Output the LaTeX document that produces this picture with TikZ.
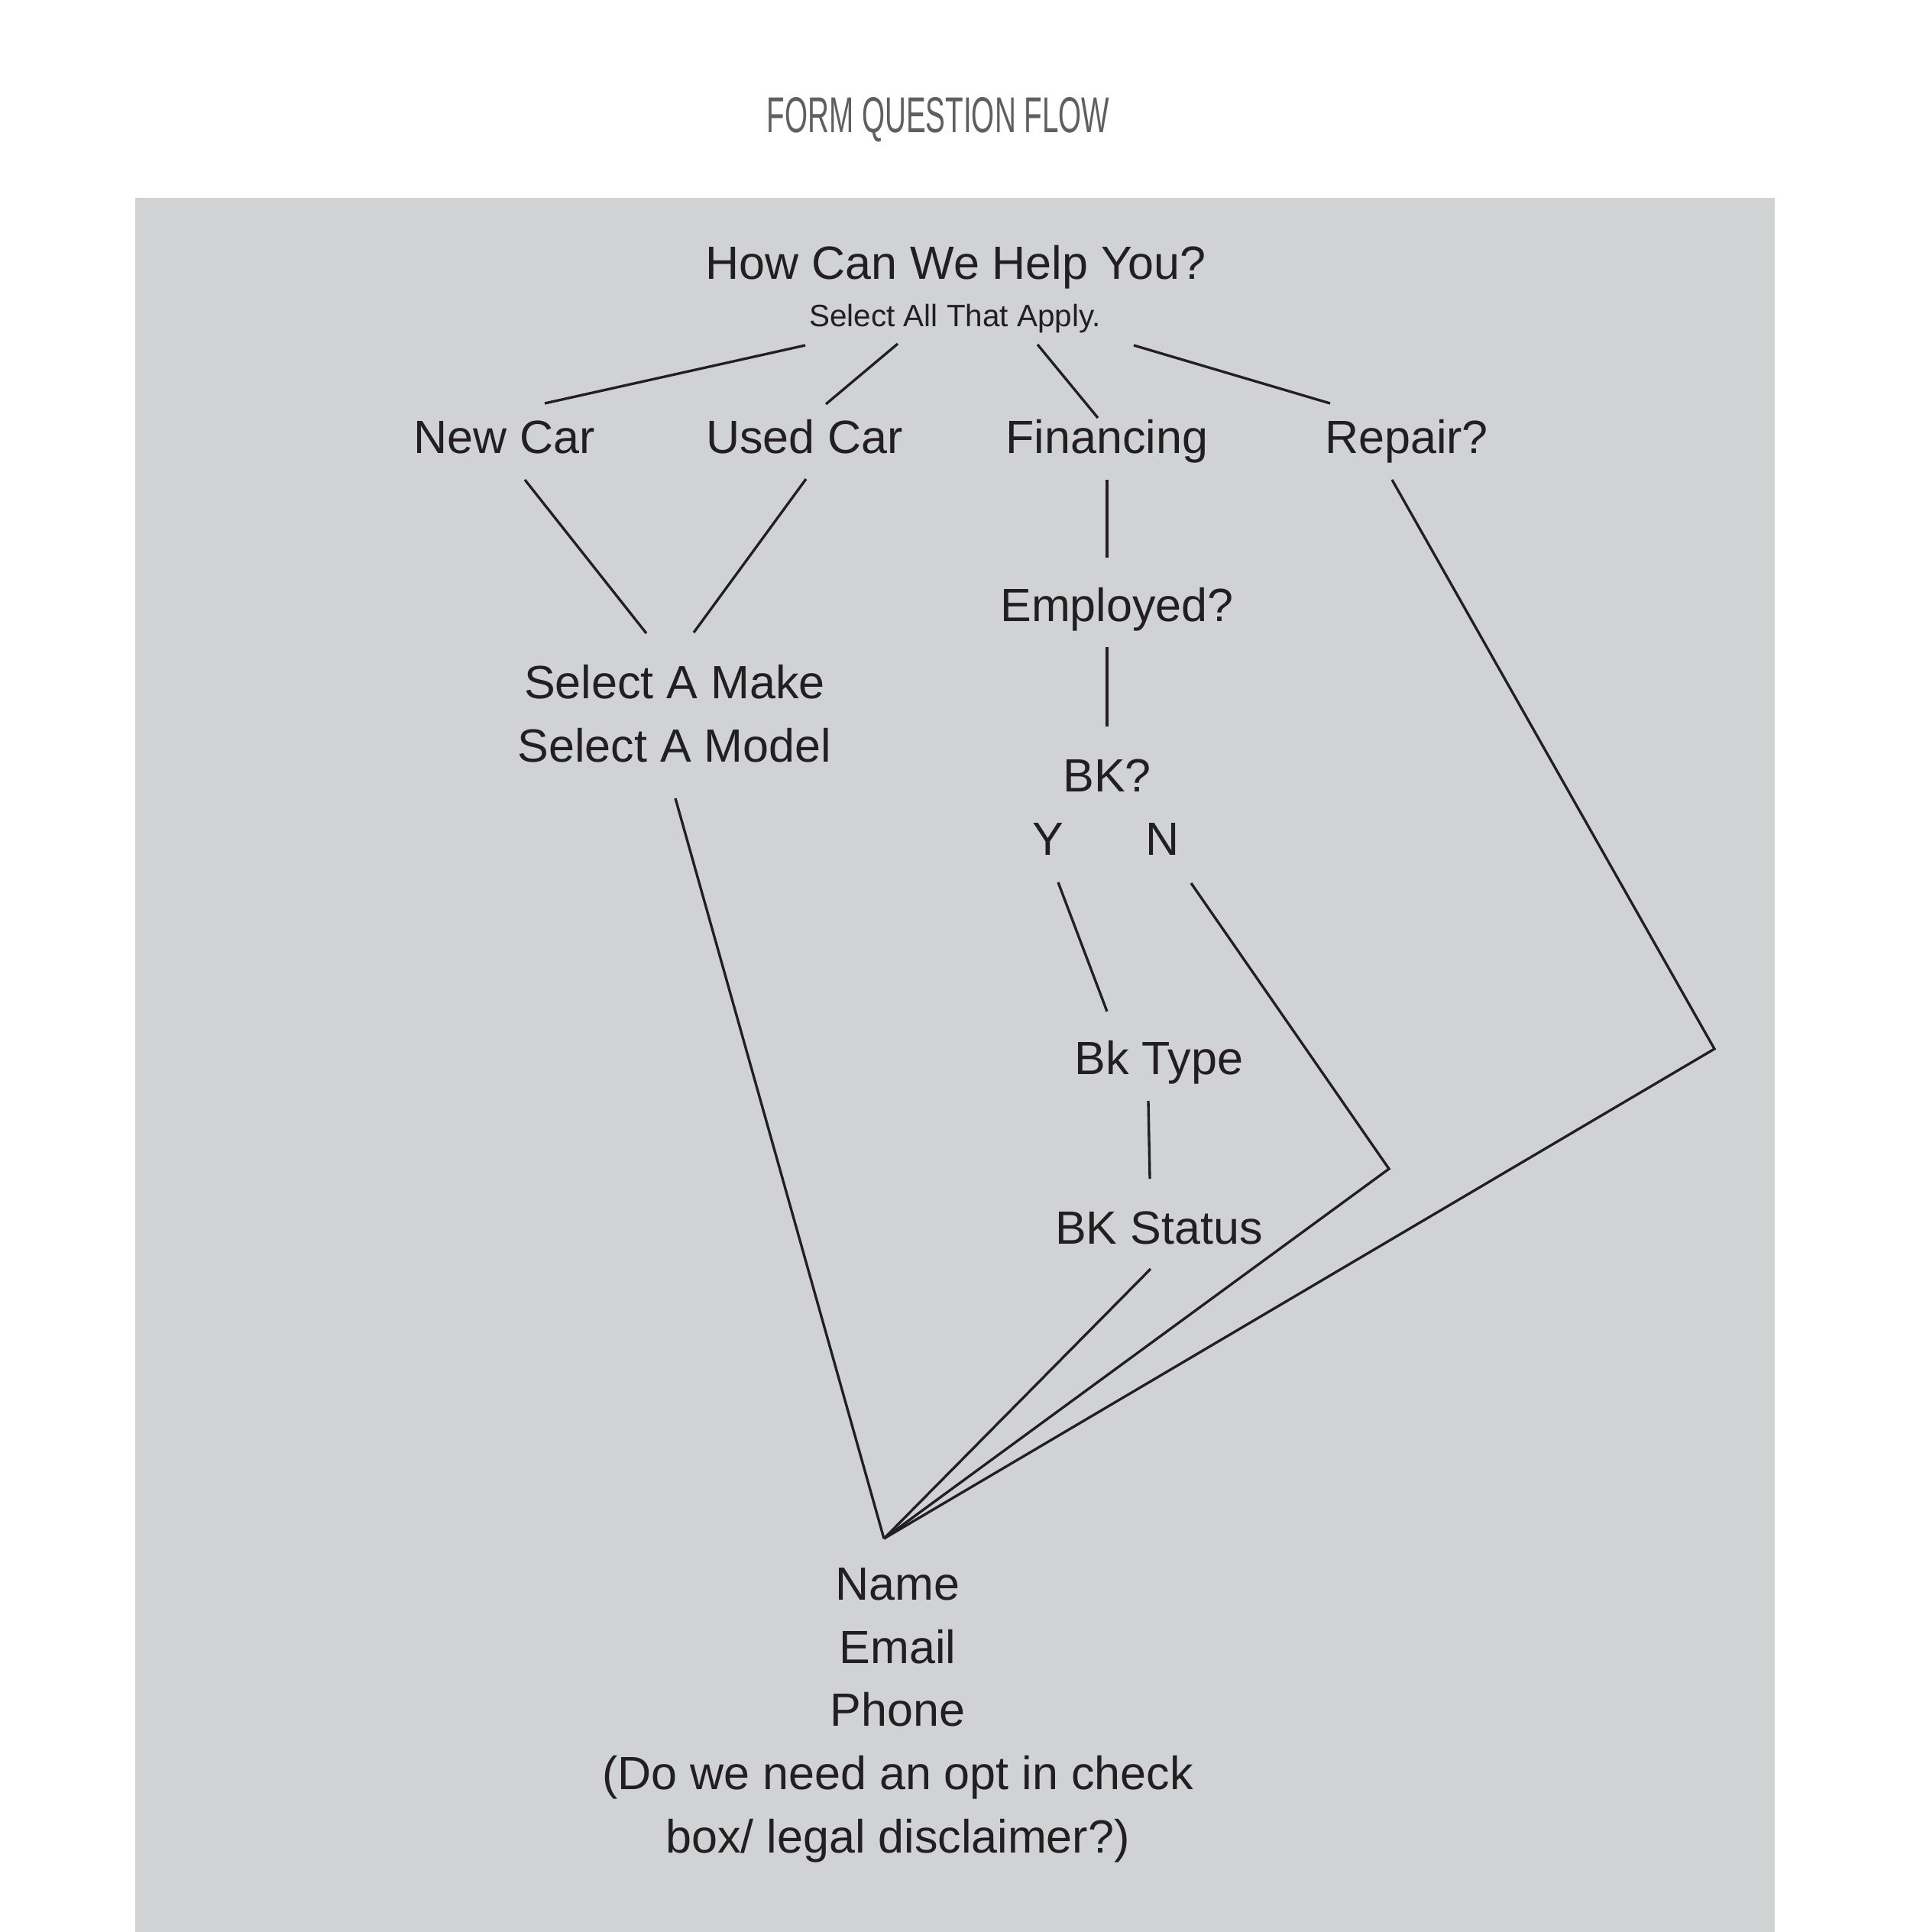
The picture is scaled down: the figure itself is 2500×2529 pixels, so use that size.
\documentclass[tikz,border=0pt]{standalone}
\usepackage{fontspec}
\setmainfont{Liberation Sans}
\usepackage{graphicx}
\definecolor{boxgrey}{HTML}{D1D2D4}
\definecolor{ink}{HTML}{231F20}
\definecolor{titlegrey}{HTML}{5F5F5F}
\begin{document}
\begin{tikzpicture}[x=0.01cm,y=-0.01cm,
  lbl/.style={anchor=base, inner sep=0pt, text=ink, align=center,
    font=\fontsize{17.36pt}{23.5pt}\selectfont},
  smalllbl/.style={anchor=base, inner sep=0pt, text=ink,
    font=\fontsize{11.5pt}{14pt}\selectfont},
  link/.style={draw=ink, line width=0.95pt, line join=miter}]
\useasboundingbox (0,0) rectangle (2500,2529);
\fill[white] (0,0) rectangle (2500,2529);
\fill[boxgrey] (177,259) rectangle (2323,2529);

\node[anchor=base, inner sep=0pt, text=titlegrey] (title) at (1228,173)
  {\resizebox{127.5pt}{13.09pt}{FORM QUESTION FLOW}};

\node[lbl] (help) at (1251,365) {How Can We Help You?};
\node[smalllbl] (apply) at (1250,427) {Select All That Apply.};
\node[lbl] (newcar) at (660,593) {New Car};
\node[lbl] (usedcar) at (1053,593) {Used Car};
\node[lbl] (fin) at (1449,593) {Financing};
\node[lbl] (repair) at (1841,593) {Repair?};
\node[lbl] (employed) at (1462,813) {Employed?};
% base anchor of a multi-line node is the baseline of its last line
\node[lbl] (make) at (883,997) {Select A Make\\Select A Model};
\node[lbl] (bk) at (1449,1036) {BK?};
\node[lbl] (yes) at (1372,1119) {Y};
\node[lbl] (no) at (1522,1119) {N};
\node[lbl] (bktype) at (1517,1406) {Bk Type};
\node[lbl] (bkstatus) at (1517,1628) {BK Status};
\node[lbl] (contact) at (1175,2425) {Name\\Email\\Phone\\(Do we need an opt in check\\box/ legal disclaimer?)};

\coordinate (h1) at (1054,452); \coordinate (n1) at (713,528);
\coordinate (h2) at (1175,450); \coordinate (u1) at (1081,529);
\coordinate (h3) at (1358,451); \coordinate (f1) at (1437,547);
\coordinate (h4) at (1484,452); \coordinate (r1) at (1741,528);
\coordinate (n2) at (687,628);  \coordinate (m1) at (846,829);
\coordinate (u2) at (1055,627); \coordinate (m2) at (908,828);
\coordinate (f2) at (1449,628); \coordinate (e1) at (1449,730);
\coordinate (e2) at (1449,847); \coordinate (b1) at (1449,951);
\coordinate (m3) at (884,1045); \coordinate (apex) at (1157,2014);
\coordinate (y1) at (1385,1155); \coordinate (t1) at (1449,1324);
\coordinate (n3) at (1559,1156); \coordinate (kneeN) at (1818,1530);
\coordinate (t2) at (1503,1441); \coordinate (s1) at (1505,1543);
\coordinate (s2) at (1506,1661);
\coordinate (r2) at (1822,628);  \coordinate (kneeR) at (2244,1373);

\draw[link] (h1) -- (n1);
\draw[link] (h2) -- (u1);
\draw[link] (h3) -- (f1);
\draw[link] (h4) -- (r1);
\draw[link] (n2) -- (m1);
\draw[link] (u2) -- (m2);
\draw[link] (f2) -- (e1);
\draw[link] (e2) -- (b1);
\draw[link] (m3) -- (apex);
\draw[link] (y1) -- (t1);
\draw[link] (n3) -- (kneeN) -- (apex);
\draw[link] (t2) -- (s1);
\draw[link] (s2) -- (apex);
\draw[link] (r2) -- (kneeR) -- (apex);
\end{tikzpicture}
\end{document}
